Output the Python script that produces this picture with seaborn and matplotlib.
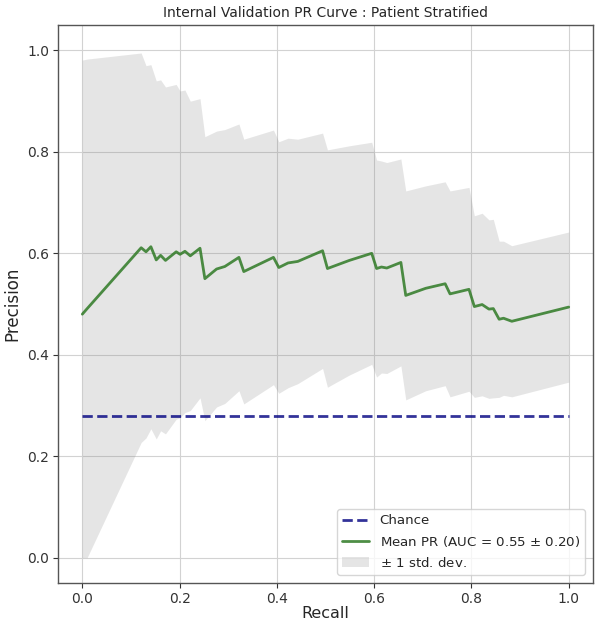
import numpy as np
import pandas as pd
import matplotlib
matplotlib.use("Agg")
import matplotlib.pyplot as plt
import seaborn as sns

# Mean precision-recall curve across folds, with its standard deviation
recall = [0.000, 0.010, 0.121, 0.131, 0.141, 0.152, 0.161, 0.171, 0.193, 0.201,
          0.211, 0.222, 0.242, 0.252, 0.276, 0.293, 0.322, 0.332, 0.393, 0.404,
          0.423, 0.443, 0.494, 0.504, 0.549, 0.595, 0.605, 0.615, 0.626, 0.655,
          0.665, 0.706, 0.746, 0.756, 0.795, 0.806, 0.822, 0.836, 0.845, 0.857,
          0.866, 0.883, 1.000]
mean_precision = [0.480, 0.491, 0.611, 0.603, 0.613, 0.587, 0.596, 0.586, 0.603, 0.598,
                  0.604, 0.595, 0.610, 0.550, 0.569, 0.574, 0.592, 0.564, 0.592, 0.572,
                  0.581, 0.584, 0.605, 0.570, 0.586, 0.600, 0.570, 0.573, 0.571, 0.582,
                  0.517, 0.531, 0.540, 0.520, 0.529, 0.495, 0.499, 0.490, 0.491, 0.470,
                  0.472, 0.466, 0.494]
std_precision = [0.501, 0.492, 0.384, 0.367, 0.359, 0.353, 0.346, 0.342, 0.330, 0.322,
                 0.318, 0.305, 0.295, 0.280, 0.272, 0.270, 0.263, 0.261, 0.251, 0.248,
                 0.246, 0.241, 0.232, 0.234, 0.226, 0.219, 0.214, 0.209, 0.208, 0.204,
                 0.206, 0.202, 0.201, 0.203, 0.201, 0.179, 0.180, 0.176, 0.176, 0.154,
                 0.152, 0.149, 0.148]
chance_level = 0.28
mean_auc = 0.55
std_auc = 0.20

sns.set_style("whitegrid", {
    "grid.color": "#d2d2d2",
    "axes.edgecolor": "#555555",
    "xtick.bottom": True,
    "ytick.left": True,
    "xtick.color": "#333333",
    "ytick.color": "#333333",
})
plt.rcParams["font.family"] = ["DejaVu Sans"]

fig = plt.figure(figsize=(5.96, 6.27), dpi=100)
ax = fig.add_axes([0.0973, 0.0702, 0.8977, 0.8898])

chance_df = pd.DataFrame({"Recall": [0.0, 1.0], "Precision": [chance_level, chance_level]})
sns.lineplot(data=chance_df, x="Recall", y="Precision", ax=ax, color="navy",
             linestyle="--", linewidth=2, alpha=0.8, label="Chance")

pr_df = pd.DataFrame({"Recall": recall, "Precision": mean_precision})
sns.lineplot(data=pr_df, x="Recall", y="Precision", ax=ax, color="#2f7a25",
             linewidth=2, alpha=0.85,
             label=f"Mean PR (AUC = {mean_auc:.2f} $\\pm$ {std_auc:.2f})")

mean_arr = np.array(mean_precision)
std_arr = np.array(std_precision)
upper = np.minimum(mean_arr + std_arr, 1.0)
lower = np.maximum(mean_arr - std_arr, 0.0)
ax.fill_between(recall, lower, upper, color="grey", alpha=0.2, linewidth=0,
                label=r"$\pm$ 1 std. dev.")

ax.set_xlim(-0.05, 1.05)
ax.set_ylim(-0.05, 1.05)
ax.set_xticks([0.0, 0.2, 0.4, 0.6, 0.8, 1.0])
ax.set_yticks([0.0, 0.2, 0.4, 0.6, 0.8, 1.0])
ax.tick_params(axis="both", labelsize=10, length=3.5, width=0.8, pad=3)
for s in ax.spines.values():
    s.set_linewidth(1.0)

ax.set_xlabel("Recall", fontsize=11.5, labelpad=0)
ax.set_ylabel("Precision", fontsize=12, labelpad=4)
ax.set_title("Internal Validation PR Curve : Patient Stratified", fontsize=10, pad=6)
ax.legend(loc="lower right", fontsize=9.6, frameon=True, framealpha=0.8,
          edgecolor="#cccccc", borderaxespad=0.6)

fig.savefig("out.png", dpi=100)
